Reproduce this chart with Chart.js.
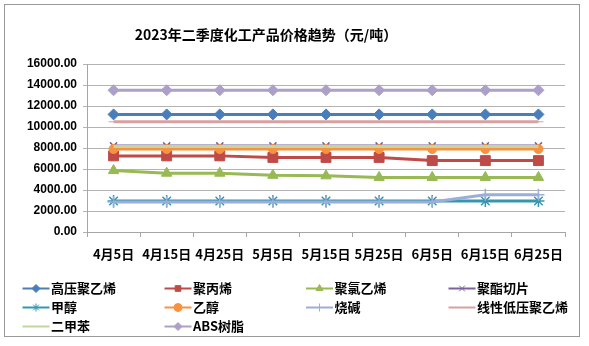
<!DOCTYPE html>
<html>
<head>
<meta charset="utf-8">
<script src="https://cdn.jsdelivr.net/npm/chart.js@4.4.0/dist/chart.umd.min.js"></script>
<style>
  body { margin: 0; background: #fff; }
  #box { position: absolute; left: 4px; top: 4px; width: 574px; height: 331px; border: 1px solid #999; }
  #chart { display: block; }
</style>
</head>
<body>
<div id="box"><canvas id="chart" width="574" height="331"></canvas></div>
<script>
// categories (x axis)
const dates = ["4月5日", "4月15日", "4月25日", "5月5日", "5月15日", "5月25日", "6月5日", "6月15日", "6月25日"];
// prices, yuan per ton
const hdpe = [11200, 11200, 11200, 11200, 11200, 11200, 11200, 11200, 11200];
const pp = [7250, 7250, 7250, 7100, 7100, 7100, 6800, 6800, 6800];
const pvc = [5850, 5600, 5600, 5400, 5350, 5200, 5200, 5200, 5200];
const pet = [8200, 8200, 8200, 8200, 8200, 8200, 8200, 8200, 8200];
const methanol = [2950, 2950, 2950, 2950, 2950, 2950, 2950, 2950, 2950];
const ethanol = [7900, 7900, 7900, 7900, 7900, 7900, 7900, 7900, 7900];
const causticSoda = [2850, 2850, 2850, 2850, 2850, 2850, 2850, 3550, 3550];
const lldpe = [10500, 10500, 10500, 10500, 10500, 10500, 10500, 10500, 10500];
const xylene = [8150, 8150, 8150, 8150, 8150, 8150, 8150, 8150, 8150];
const abs = [13500, 13500, 13500, 13500, 13500, 13500, 13500, 13500, 13500];
// y axis ticks
const yTicks = [0, 2000, 4000, 6000, 8000, 10000, 12000, 14000, 16000];

const cjk = "'Noto Sans CJK SC', sans-serif";

//series settings: name, values, colour, marker, marker size
const series = [
    ["高压聚乙烯", hdpe, "#4A7EBB", "rectRot", 5.5],
    ["聚丙烯", pp, "#BE4B48", "rect", 7],
    ["聚氯乙烯", pvc, "#98B954", "triangle", 6],
    ["聚酯切片", pet, "#7D60A0", "crossRot", 5],
    ["甲醇", methanol, "#3596B0", "star", 6],
    ["乙醇", ethanol, "#F69240", "circle", 4.5],
    ["烧碱", causticSoda, "#9AAED8", "cross", 6],
    ["线性低压聚乙烯", lldpe, "#D8A0A0", "line", 5],
    ["二甲苯", xylene, "#C3D69B", "circle", 0],
    ["ABS树脂", abs, "#ADA0C8", "rectRot", 5.5],
];

const datasets = series.map((s, i) => ({
    label: s[0],
    data: s[1],
    borderColor: s[2],
    backgroundColor: s[2],
    pointStyle: s[3],
    pointRadius: s[4],
    pointBorderWidth: (s[3] == "star" || s[3] == "cross" || s[3] == "crossRot") ? 1.5 : 1,
    borderWidth: 3,
    tension: 0,
    //later series on top, as in the original
    order: series.length - i,
}));

//title drawn at its own place
const titlePlugin = {
    id: "titlePlugin",
    afterDraw(chart) {
        const ctx = chart.ctx;
        ctx.save();
        ctx.fillStyle = "#000";
        ctx.font = "bold 14px " + cjk;
        ctx.textAlign = "center";
        ctx.textBaseline = "middle";
        ctx.fillText("2023年二季度化工产品价格趋势（元/吨）", 261, 30);
        ctx.restore();
    },
};

//legend in 4 columns
const legendPlugin = {
    id: "gridLegend",
    afterDraw(chart) {
        const ctx = chart.ctx;
        const colX = [17.5, 159.5, 301, 443.5];
        const rowY = [283.5, 302.5, 321.5];
        chart.data.datasets.forEach((ds, i) => {
            const x = colX[i % 4];
            const y = rowY[Math.floor(i / 4)];
            ctx.save();
            ctx.strokeStyle = ds.borderColor;
            ctx.lineWidth = 2;
            ctx.beginPath();
            ctx.moveTo(x, y);
            ctx.lineTo(x + 27, y);
            ctx.stroke();
            if (ds.pointRadius > 0 && ds.pointStyle != "line") {
                ctx.fillStyle = ds.backgroundColor;
                ctx.lineWidth = 1;
                Chart.helpers.drawPoint(ctx, { pointStyle: ds.pointStyle, radius: 4, borderWidth: 1, rotation: 0 }, x + 13.5, y);
            }
            ctx.fillStyle = "#000";
            ctx.font = "bold 13px " + cjk;
            ctx.textAlign = "left";
            ctx.textBaseline = "middle";
            ctx.fillText(ds.label, x + 28.5, y);
            ctx.restore();
        });
    },
};

new Chart(document.getElementById("chart"), {
    type: "line",
    data: { labels: dates, datasets: datasets },
    plugins: [titlePlugin, legendPlugin],
    options: {
        responsive: false,
        animation: false,
        layout: { padding: { top: 59, right: 14, bottom: 74, left: 0 } },
        plugins: {
            legend: { display: false },
            tooltip: { enabled: false },
        },
        scales: {
            x: {
                offset: true,
                grid: { offset: true, drawOnChartArea: false, tickLength: 5, color: "#a6a6a6" },
                border: { color: "#a6a6a6" },
                ticks: { color: "#000", padding: 9, maxRotation: 0, font: { family: cjk, size: 13, weight: "bold" } },
                afterFit: (s) => { s.height = 30; },
            },
            y: {
                min: 0,
                max: 16000,
                afterBuildTicks: (s) => { s.ticks = yTicks.map((v) => ({ value: v })); },
                grid: { color: "#b3b3b3", tickLength: 4 },
                border: { color: "#a6a6a6" },
                ticks: {
                    color: "#000",
                    padding: 6,
                    font: { family: "'Liberation Sans', Arial, sans-serif", size: 12, weight: "bold" },
                    callback: (v) => Number(v).toFixed(2),
                },
                afterFit: (s) => { s.width = 82; },
            },
        },
    },
});
</script>
</body>
</html>
